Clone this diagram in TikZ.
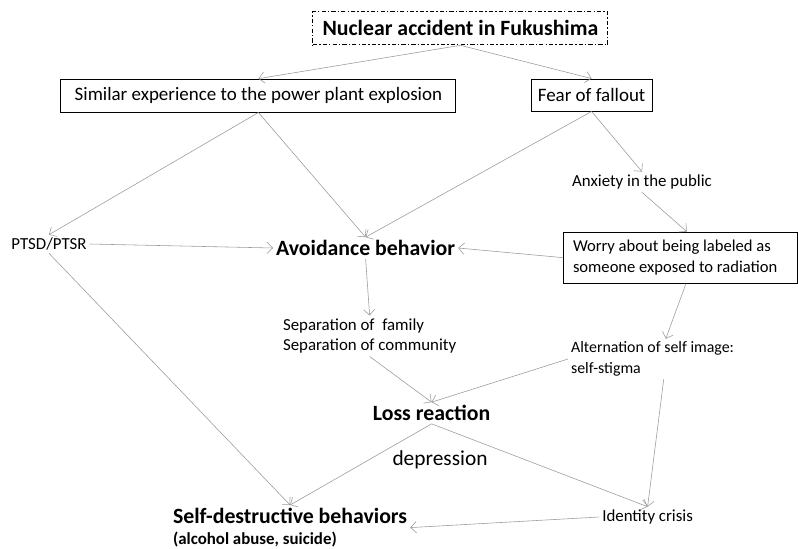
\documentclass[tikz,border=0pt]{standalone}
\usepackage{fontspec}
\setmainfont{Carlito}
\usepackage{tikz}
\usetikzlibrary{arrows.meta,positioning,calc}
\tikzset{
    flow/.style={draw=gray!80, line width=0.4pt, -{Straight Barb[length=4pt,width=8pt]}},
    boxed/.style={draw, line width=0.6pt, inner sep=4pt},
    plain/.style={inner sep=2pt, font=\fontsize{12}{14.5}\selectfont},
    heading/.style={inner sep=2pt, font=\fontsize{15.5}{18}\selectfont\bfseries}
}

\begin{document}
\begin{tikzpicture}
    \useasboundingbox (0,0) rectangle (19.95,13.7);
    % boxes
    \node[boxed, dash pattern=on 3pt off 1.5pt on 1pt off 1.5pt, minimum width=7.375cm, minimum height=0.825cm,
          font=\fontsize{15.5}{18}\selectfont\bfseries] (nuc) at (11.51,12.99) {Nuclear accident in Fukushima};
    \node[boxed, minimum width=9.875cm, minimum height=0.825cm, font=\fontsize{13.5}{16}\selectfont] (sim) at (6.46,11.31) {Similar experience to the power plant explosion};
    \node[boxed, minimum width=3.03cm, minimum height=0.8cm, font=\fontsize{13.5}{16}\selectfont] (fear) at (14.79,11.325) {Fear of fallout};
    \node[boxed, inner xsep=0.25cm, text width=5.35cm, minimum height=1.275cm, align=flush left, font=\fontsize{11.8}{15.5}\selectfont] (worry) at (17.0,7.26) {Worry about being labeled as\\someone exposed to radiation};
    % free text
    \node[plain] (anx) at (16.05,9.15) {Anxiety in the public};
    \node[plain] (ptsd) at (1.225,7.6) {PTSD/PTSR};
    \node[heading] (avoid) at (9.14,7.5) {Avoidance behavior};
    \node[plain, anchor=west, align=left] (sep) at (7.0,5.3) {Separation of~ family\\Separation of community};
    \node[plain, anchor=west, align=left, font=\fontsize{11.3}{14.5}\selectfont] (alt) at (14.2,4.725) {Alternation of self image:\\self-stigma};
    \node[heading] (loss) at (10.79,3.375) {Loss reaction};
    \node[plain, font=\fontsize{15.2}{18}\selectfont] (depr) at (11.0,2.2) {depression};
    \node[heading, anchor=west, align=left] (selfd) at (4.25,0.51)
        {Self-destructive behaviors\\[-3pt]{\fontsize{12}{14}\selectfont(alcohol abuse, suicide)}};
    \node[plain] (ident) at (16.19,0.775) {Identity crisis};
    % connectors
    \draw[flow] (nuc.south) -- (sim.north);
    \draw[flow] (nuc.south) -- (fear.north);
    \draw[flow] (sim.south) -- (ptsd.north);
    \draw[flow] (sim.south) -- (avoid.north);
    \draw[flow] (fear.south) -- (avoid.north);
    \draw[flow] (fear.south) -- (anx.north);
    \draw[flow] (anx.south) -- ([xshift=0.17cm]worry.north);
    \draw[flow] (worry.west) -- (avoid.east);
    \draw[flow] ([xshift=0.15cm]worry.south) -- ([xshift=0.33cm]alt.north);
    \draw[flow] (ptsd.east) -- (avoid.west);
    \draw[flow] (avoid.south) -- (sep.north);
    \draw[flow] (sep.south) -- (loss.north);
    \draw[flow] (alt.west) -- (loss.north);
    \draw[flow] (ptsd.south) -- (selfd.north);
    \draw[flow] (loss.south) -- (selfd.north);
    \draw[flow] (loss.south) -- (ident.north);
    \draw[flow] ([xshift=0.28cm]alt.south) -- (ident.north);
    \draw[flow] (ident.west) -- (selfd.east);
\end{tikzpicture}
\end{document}
